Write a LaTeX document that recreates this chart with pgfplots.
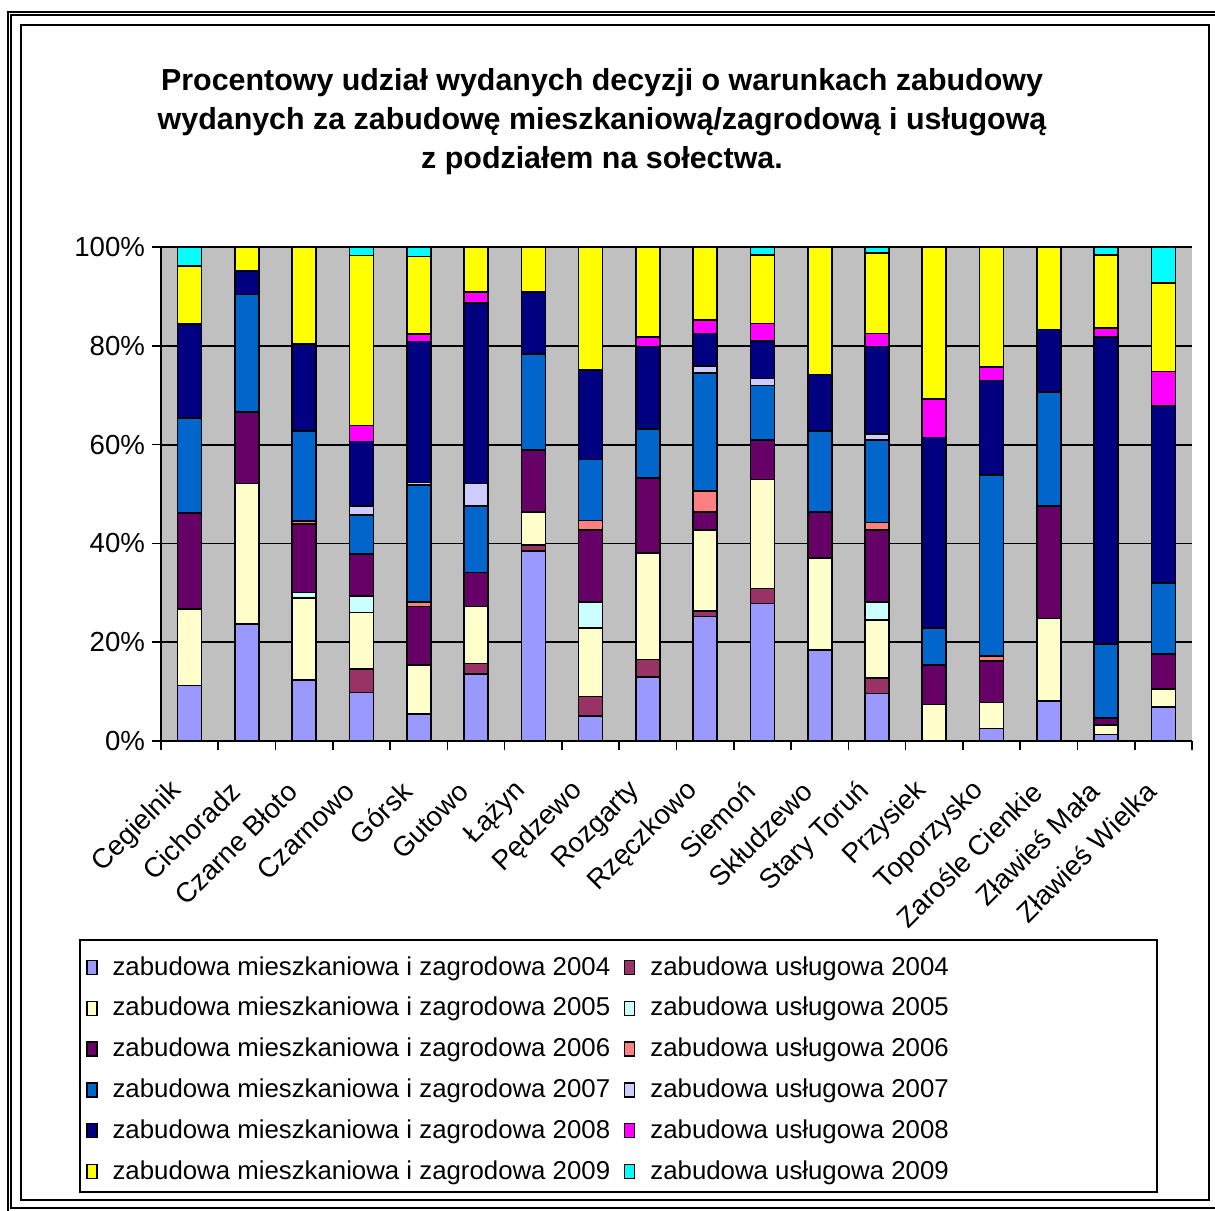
\documentclass[border=0pt]{standalone}
\usepackage{pgfplots}
\pgfplotsset{compat=1.18}
\usepackage{pgfplotstable}
\usepackage{fontspec}
\setmainfont{Liberation Sans}

\definecolor{cmA}{HTML}{9999FF}
\definecolor{cuA}{HTML}{993366}
\definecolor{cmB}{HTML}{FFFFCC}
\definecolor{cuB}{HTML}{CCFFFF}
\definecolor{cmC}{HTML}{660066}
\definecolor{cuC}{HTML}{FF8080}
\definecolor{cmD}{HTML}{0066CC}
\definecolor{cuD}{HTML}{CCCCFF}
\definecolor{cmE}{HTML}{000080}
\definecolor{cuE}{HTML}{FF00FF}
\definecolor{cmF}{HTML}{FFFF00}
\definecolor{cuF}{HTML}{00FFFF}
\definecolor{plotgray}{HTML}{C0C0C0}

\pgfplotstableread{
x  m04  u04  m05  u05  m06  u06  m07  u07  m08  u08  m09  u09
0  11.2 0    15.5 0    19.4 0    19.3 0    19.0 0    11.7 3.9
1  23.7 0    28.4 0    14.5 0    23.8 0    4.7  0    4.9  0
2  12.3 0    16.7 1.1  13.8 0.6  18.2 0    17.7 0    19.6 0
3  9.8  4.8  11.4 3.3  8.5  0    7.9  1.9  13.0 3.3  34.4 1.7
4  5.5  0    9.9  0    11.8 1.0  23.6 0.5  28.6 1.5  15.7 1.9
5  13.6 2.1  11.5 0    6.9  0    13.5 4.5  36.6 2.2  9.1  0
6  38.5 1.2  6.7  0    12.5 0    19.4 0    12.6 0    9.1  0
7  5.1  3.9  13.9 5.3  14.5 1.9  12.4 0    18.1 0    24.9 0
8  13.0 3.5  21.6 0    15.2 0    9.8  0    16.8 1.9  18.2 0
9  25.2 1.1  16.4 0    3.7  4.2  23.9 1.4  6.6  2.7  14.8 0
10 27.8 3.1  22.0 0    8.0  0    11.1 1.4  7.6  3.5  13.9 1.6
11 18.4 0    18.6 0    9.4  0    16.4 0    11.4 0    25.8 0
12 9.6  3.1  11.8 3.7  14.5 1.5  16.7 1.3  17.7 2.6  16.3 1.2
13 0    0    7.4  0    8.0  0    7.5  0    38.5 7.8  30.8 0
14 2.5  0    5.3  0    8.4  1.0  36.7 0    19.1 2.7  24.3 0
15 8.1  0    16.7 0    22.8 0    23.1 0    12.6 0    16.7 0
16 1.3  0    1.9  0    1.5  0    14.9 0    62.2 1.8  14.8 1.6
17 6.9  0    3.6  0    7.1  0    14.4 0    35.8 7.0  17.9 7.3
}\datatable

\pgfplotsset{sq legend/.style={legend image code/.code={\draw[##1,line width=0.6pt] (0pt,-3.5pt) rectangle (5pt,3.5pt);}}}

\begin{document}
\begin{tikzpicture}
\useasboundingbox (0pt,0pt) rectangle (607.5pt,-605pt);
% outer double frame
\draw[line width=1pt] (4pt,-640pt) -- (4pt,-6pt) -- (640pt,-6pt);
\draw[line width=1pt] (5.5pt,-604pt) rectangle (640pt,-7.5pt);
% inner frame
\draw[line width=1pt] (10.5pt,-12.5pt) rectangle (604.5pt,-600pt);
% title
\node[align=center, font=\fontsize{15.2}{19.5}\selectfont\bfseries] at (301pt,-61pt)
 {Procentowy udział wydanych decyzji o warunkach zabudowy\\wydanych za zabudowę mieszkaniową/zagrodową i usługową\\z podziałem na sołectwa.};
% legend box
\draw[line width=0.7pt] (40pt,-470pt) rectangle (578.5pt,-596pt);
\begin{axis}[
  at={(80.5pt,-370.5pt)}, anchor=south west,
  scale only axis, width=515.5pt, height=247pt,
  ybar stacked, bar width=12pt,
  xmin=-0.5, xmax=17.5, ymin=0, ymax=100,
  axis background/.style={fill=plotgray},
  axis x line*=bottom, axis y line*=left,
  axis line style={line width=1pt},
  ymajorgrids, grid style={black, line width=0.9pt},
  ytick={0,20,40,60,80,100},
  yticklabels={0\%,20\%,40\%,60\%,80\%,100\%},
  xtick={0,...,17},
  xticklabels={Cegielnik, Cichoradz, Czarne Błoto, Czarnowo, Górsk, Gutowo, Łążyn, Pędzewo, Rozgarty, Rzęczkowo, Siemoń, Skłudzewo, Stary Toruń, Przysiek, Toporzysko, Zarośle Cienkie, Zławieś Mała, Zławieś Wielka},
  minor xtick={-0.5,0.5,...,17.5},
  every major x tick/.append style={draw=none},
  tick align=outside, major tick length=4.5pt, minor tick length=4.5pt,
  tick style={black, line width=0.8pt},
  every tick/.append style={black},
  xticklabel style={xshift=-3.5pt, yshift=-16pt, rotate=45, anchor=east, font=\fontsize{13.8}{16}\selectfont},
  yticklabel style={font=\fontsize{13.8}{16}\selectfont},
  /pgf/number format/assume math mode=true,
  legend columns=2,
  legend cell align=left,
  legend style={draw=none, fill=none, at={(-0.0786,-0.419)}, anchor=north west,
    font=\fontsize{12.9}{15}\selectfont, row sep=5.6pt,
    /tikz/every odd column/.append style={column sep=5.5pt},
    /tikz/every even column/.append style={column sep=5pt}},
  every axis plot/.append style={draw=black, line width=0.8pt},
]
\addplot[fill=cmA, sq legend] table[x=x,y=m04]{\datatable};
\addlegendentry{zabudowa mieszkaniowa i zagrodowa 2004}
\addplot[fill=cuA, sq legend] table[x=x,y=u04]{\datatable};
\addlegendentry{zabudowa usługowa 2004}
\addplot[fill=cmB, sq legend] table[x=x,y=m05]{\datatable};
\addlegendentry{zabudowa mieszkaniowa i zagrodowa 2005}
\addplot[fill=cuB, sq legend] table[x=x,y=u05]{\datatable};
\addlegendentry{zabudowa usługowa 2005}
\addplot[fill=cmC, sq legend] table[x=x,y=m06]{\datatable};
\addlegendentry{zabudowa mieszkaniowa i zagrodowa 2006}
\addplot[fill=cuC, sq legend] table[x=x,y=u06]{\datatable};
\addlegendentry{zabudowa usługowa 2006}
\addplot[fill=cmD, sq legend] table[x=x,y=m07]{\datatable};
\addlegendentry{zabudowa mieszkaniowa i zagrodowa 2007}
\addplot[fill=cuD, sq legend] table[x=x,y=u07]{\datatable};
\addlegendentry{zabudowa usługowa 2007}
\addplot[fill=cmE, sq legend] table[x=x,y=m08]{\datatable};
\addlegendentry{zabudowa mieszkaniowa i zagrodowa 2008}
\addplot[fill=cuE, sq legend] table[x=x,y=u08]{\datatable};
\addlegendentry{zabudowa usługowa 2008}
\addplot[fill=cmF, sq legend] table[x=x,y=m09]{\datatable};
\addlegendentry{zabudowa mieszkaniowa i zagrodowa 2009}
\addplot[fill=cuF, sq legend] table[x=x,y=u09]{\datatable};
\addlegendentry{zabudowa usługowa 2009}
\end{axis}
\end{tikzpicture}
\end{document}
